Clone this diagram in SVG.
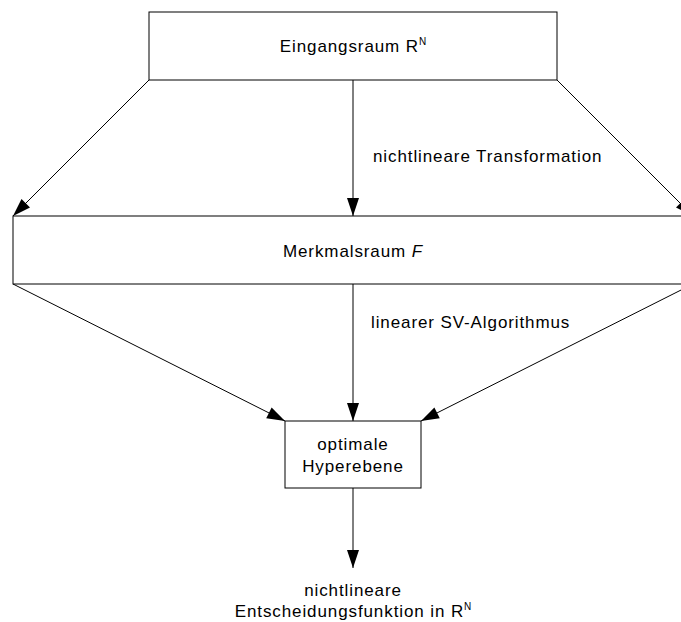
<svg xmlns="http://www.w3.org/2000/svg" width="681" height="622" viewBox="0 0 681 622">
<style>
.box{fill:#fff;stroke:#000;stroke-width:1}
.ln{stroke:#000;stroke-width:1;fill:none}
text{font-family:"Liberation Sans",Arial,sans-serif;font-size:17px;letter-spacing:0.9px;fill:#000}
.c{text-anchor:middle}
.sup{font-size:10px;letter-spacing:0}
</style>
<defs>
<marker id="ah" markerUnits="userSpaceOnUse" markerWidth="18" markerHeight="12" refX="18" refY="6" orient="auto" overflow="visible">
<path d="M0,0 L18,6 L0,12 z" fill="#000"/>
</marker>
</defs>
<g id="connectors">
<line class="ln" x1="149" y1="80" x2="13" y2="216" marker-end="url(#ah)"/>
<line class="ln" x1="353" y1="80" x2="353" y2="216" marker-end="url(#ah)"/>
<line class="ln" x1="557" y1="80" x2="693" y2="216" marker-end="url(#ah)"/>
<line class="ln" x1="13" y1="284" x2="285" y2="421" marker-end="url(#ah)"/>
<line class="ln" x1="353" y1="284" x2="353" y2="421" marker-end="url(#ah)"/>
<line class="ln" x1="693" y1="284" x2="421" y2="421" marker-end="url(#ah)"/>
<line class="ln" x1="353" y1="488" x2="353" y2="568" marker-end="url(#ah)"/>
<text x="373" y="162">nichtlineare Transformation</text>
<text x="371" y="328">linearer SV-Algorithmus</text>
</g>
<g id="eingangsraum">
<rect class="box" x="149" y="12" width="408" height="68"/>
<text class="c" x="353" y="52">Eingangsraum R<tspan class="sup" dy="-7">N</tspan></text>
</g>
<g id="merkmalsraum">
<rect class="box" x="13" y="216" width="680" height="68"/>
<text class="c" x="353" y="257">Merkmalsraum <tspan font-style="italic">F</tspan></text>
</g>
<g id="hyperebene">
<rect class="box" x="285" y="421" width="136" height="67"/>
<text class="c" x="353" y="450">optimale</text>
<text class="c" x="353" y="472">Hyperebene</text>
</g>
<g id="entscheidungsfunktion">
<text class="c" x="353" y="596">nichtlineare</text>
<text class="c" x="353" y="617">Entscheidungsfunktion in R<tspan class="sup" dy="-7">N</tspan></text>
</g>
</svg>
